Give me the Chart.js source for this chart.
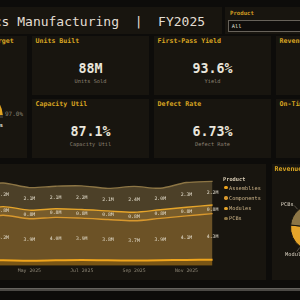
<!DOCTYPE html>
<html>
<head>
<meta charset="utf-8">
<script src="https://cdn.jsdelivr.net/npm/chart.js@4.4.1/dist/chart.umd.min.js"></script>
<style>
    html, body { margin: 0; padding: 0; width: 300px; height: 300px; overflow: hidden; background: #0d0c0a; }
    body { position: relative; font-family: 'DejaVu Sans Mono', monospace; }
    .panel { position: absolute; background: #18150f; }
    .kt { position: absolute; left: 3.5px; top: 2px; font: bold 6.6px/7px 'DejaVu Sans Mono'; color: #d9a521; white-space: nowrap; }
    .kv { position: absolute; left: 0; right: 0; top: 25.5px; text-align: center; font: bold 13.3px/14px 'DejaVu Sans Mono'; color: #e9e5db; }
    .ks { position: absolute; left: 0; right: 0; top: 42px; text-align: center; font: 5.3px/6px 'DejaVu Sans Mono'; color: #8c8273; }
    .abs { position: absolute; white-space: pre; }
    #area-legend { position: absolute; left: 223px; top: 175.5px; font-family: 'DejaVu Sans Mono'; }
    #area-legend .lg-title { font: bold 5.3px/7px 'DejaVu Sans Mono'; color: #d8ccb4; }
    #area-legend .lg-item { position: relative; padding-left: 6px; font: 5.3px/10.3px 'DejaVu Sans Mono'; color: #c9b187; white-space: nowrap; }
    #area-legend .dot { position: absolute; left: 1.3px; top: 3.45px; width: 3.4px; height: 3.4px; border-radius: 50%; }
    canvas { position: absolute; }
</style>
</head>
<body>
    <!-- header -->
    <div class="panel" style="left:-100px; top:7px; width:322px; height:27px;"></div>
    <div class="panel" style="left:225px; top:7px; width:120px; height:27px;"></div>
    <div class="abs" style="left:-76.7px; top:13.5px; font:13px/15px 'DejaVu Sans Mono'; color:#e3ded3;">Electronics Manufacturing  |  FY2025</div>
    <div class="abs" style="left:230px; top:9.8px; font:bold 5.7px/7px 'DejaVu Sans Mono'; color:#d39f22;">Product</div>
    <div class="abs" style="left:228.3px; top:20px; width:90px; height:10px; border:1px solid #67625a; background:#0f0d0b; font:5.3px/10px 'DejaVu Sans Mono'; color:#e6e2da; padding-left:2.5px;">All</div>

    <!-- KPI cards -->
    <div class="panel" style="left:-85px; top:36px; width:112px; height:122px;">
        <div class="kt">Monthly Output vs Target</div>
        <canvas id="chart-gauge" width="64" height="32" style="left:24px; top:50px; width:64px; height:32px;"></canvas>
        <div class="abs" style="left:90px; top:73.5px; font:6px/7px 'DejaVu Sans Mono'; color:#8a8272;">97.0%</div>
        <div class="abs" style="right:24px; top:85.5px; font:bold 5.3px/6px 'DejaVu Sans Mono'; color:#ece8df; text-align:right;">88M of 90.7M units</div>
    </div>
    <div class="panel" style="left:32px; top:36px; width:117px; height:59px;">
        <div class="kt">Units Built</div><div class="kv">88M</div><div class="ks">Units Sold</div>
    </div>
    <div class="panel" style="left:154px; top:36px; width:117px; height:59px;">
        <div class="kt">First-Pass Yield</div><div class="kv">93.6%</div><div class="ks">Yield</div>
    </div>
    <div class="panel" style="left:276px; top:36px; width:117px; height:59px;">
        <div class="kt">Revenue</div><div class="kv">$412M</div><div class="ks">Revenue</div>
    </div>
    <div class="panel" style="left:32px; top:99px; width:117px; height:59px;">
        <div class="kt">Capacity Util</div><div class="kv">87.1%</div><div class="ks">Capacity Util</div>
    </div>
    <div class="panel" style="left:154px; top:99px; width:117px; height:59px;">
        <div class="kt">Defect Rate</div><div class="kv">6.73%</div><div class="ks">Defect Rate</div>
    </div>
    <div class="panel" style="left:276px; top:99px; width:117px; height:59px;">
        <div class="kt">On-Time Delivery</div><div class="kv">95.2%</div><div class="ks">On-Time</div>
    </div>

    <!-- area chart panel -->
    <div class="panel" style="left:-170px; top:164px; width:436px; height:116px;">
        <div class="kt" style="top:2.5px;">Monthly Units by Product</div>
    </div>
    <canvas id="chart-units" width="322" height="111" style="left:-91px; top:166px; width:322px; height:111px;"></canvas>
    <div id="area-legend"></div>

    <!-- pie panel -->
    <div class="panel" style="left:272px; top:164px; width:130px; height:116px;">
        <div class="kt" style="left:2.5px; top:2px;">Revenue by Product</div>
    </div>
    <canvas id="chart-revenue" width="80" height="95" style="left:274px; top:180px; width:80px; height:95px;"></canvas>

    <!-- page scrollbar -->
    <div style="position:absolute; left:0; top:288px; width:300px; height:3px; background:#4b4945; border-top:0.5px solid #66645f; box-sizing:border-box;"></div>

<script>
    const MONO = "'DejaVu Sans Mono'";

    const months = ['Jan 2025', 'Feb 2025', 'Mar 2025', 'Apr 2025', 'May 2025', 'Jun 2025',
        'Jul 2025', 'Aug 2025', 'Sep 2025', 'Oct 2025', 'Nov 2025', 'Dec 2025'];
    // units built, millions
    const assemblies = [0.52, 0.49, 0.51, 0.50, 0.47, 0.50, 0.53, 0.50, 0.48, 0.51, 0.54, 0.55];
    const components = [4.0, 4.1, 3.9, 4.2, 3.9, 4.0, 3.9, 3.8, 3.7, 3.9, 4.1, 4.3];
    const modules = [0.8, 0.9, 0.8, 0.8, 0.8, 0.8, 0.8, 0.8, 0.8, 0.8, 0.8, 0.8];
    const pcbs = [2.0, 2.1, 2.3, 2.2, 2.1, 2.1, 2.2, 2.1, 2.4, 2.0, 2.3, 2.2];

    const products = ['Assemblies', 'Components', 'Modules', 'PCBs'];
    // revenue, $M
    const revenue = [30.5, 24.0, 42.5, 29.5];

    const gaugeValues = [97.0, 3.0];

    const productColors = ['#f0a51c', '#d8982e', '#e6a52a', '#8c7545'];
    const productFills = ['rgba(240,165,28,0.45)', 'rgba(220,165,70,0.43)', 'rgba(235,180,80,0.45)', 'rgba(140,118,70,0.45)'];

    // value labels in the middle of each stacked band
    const bandLabels = {
        id: 'bandLabels',
        afterDatasetsDraw(chart) {
            const { ctx } = chart;
            const zero = chart.scales.y.getPixelForValue(0);
            ctx.save();
            ctx.font = `4.8px ${MONO}`;
            ctx.fillStyle = '#e4ddcc';
            ctx.textAlign = 'center';
            ctx.textBaseline = 'middle';
            chart.data.datasets.forEach((ds, i) => {
                const pts = chart.getDatasetMeta(i).data;
                const below = i > 0 ? chart.getDatasetMeta(i - 1).data : null;
                pts.forEach((pt, j) => {
                    const base = below ? below[j].y : zero;
                    if (base - pt.y < 7) return; // too thin for a label
                    ctx.fillText(ds.data[j].toFixed(1) + 'M', pt.x, (pt.y + base) / 2);
                });
            });
            ctx.restore();
        }
    };

    const htmlLegend = {
        id: 'htmlLegend',
        afterUpdate(chart) {
            const box = document.querySelector('#area-legend');
            box.innerHTML = '<div class="lg-title">Product</div>';
            chart.data.datasets.forEach(ds => {
                box.insertAdjacentHTML('beforeend',
                    `<div class="lg-item"><span class="dot" style="background:${ds.borderColor}"></span>${ds.label}</div>`);
            });
        }
    };

    const pieLabels = {
        id: 'pieLabels',
        afterDatasetsDraw(chart) {
            const { ctx } = chart;
            ctx.save();
            ctx.font = `5.3px ${MONO}`;
            ctx.fillStyle = '#d9d1c1';
            ctx.strokeStyle = '#8a8070';
            ctx.lineWidth = 0.6;
            ctx.textBaseline = 'middle';
            chart.getDatasetMeta(0).data.forEach((arc, i) => {
                const mid = (arc.startAngle + arc.endAngle) / 2;
                const dx = Math.cos(mid), dy = Math.sin(mid);
                const r = arc.outerRadius;
                ctx.beginPath();
                ctx.moveTo(arc.x + dx * (r + 1), arc.y + dy * (r + 1));
                ctx.lineTo(arc.x + dx * (r + 6), arc.y + dy * (r + 6));
                ctx.stroke();
                ctx.textAlign = dx < -0.65 ? 'right' : dx > 0.65 ? 'left' : 'center';
                const shift = ctx.textAlign === 'center' ? dy * 3 : 0;
                ctx.fillText(chart.data.labels[i], arc.x + dx * (r + 7), arc.y + dy * (r + 7) + shift);
            });
            ctx.restore();
        }
    };

    const series = [assemblies, components, modules, pcbs];

    new Chart(document.querySelector('#chart-units'), {
        type: 'line',
        data: {
            labels: months,
            datasets: products.map((name, i) => ({
                label: name,
                data: series[i],
                borderColor: productColors[i],
                backgroundColor: productFills[i],
                borderWidth: i === 0 ? 2 : 1.4,
                fill: i === 0 ? 'origin' : '-1',
                tension: 0.3,
                pointRadius: 0,
            }))
        },
        options: {
            responsive: false,
            animation: false,
            layout: { padding: { left: 15.7, right: 18.4, top: 3, bottom: 0.5 } },
            scales: {
                x: {
                    grid: { display: false, drawTicks: false },
                    border: { display: false },
                    ticks: {
                        autoSkip: false,
                        maxRotation: 0,
                        padding: 2.5,
                        color: '#8e8777',
                        font: { family: 'DejaVu Sans Mono', size: 4.8 },
                        callback: (val, idx) => idx % 2 === 0 ? months[idx] : '',
                    }
                },
                y: {
                    display: false,
                    stacked: true,
                    beginAtZero: true,
                    max: 9,
                }
            },
            plugins: {
                legend: { display: false },
                tooltip: { enabled: false }
            }
        },
        plugins: [bandLabels, htmlLegend]
    });

    new Chart(document.querySelector('#chart-revenue'), {
        type: 'pie',
        data: {
            labels: products,
            datasets: [{
                data: revenue,
                backgroundColor: productColors,
                borderColor: '#18150f',
                borderWidth: 1,
            }]
        },
        options: {
            responsive: false,
            animation: false,
            layout: { padding: { left: 16, right: 16, top: 23.5, bottom: 23.5 } },
            plugins: { legend: { display: false }, tooltip: { enabled: false } }
        },
        plugins: [pieLabels]
    });

    new Chart(document.querySelector('#chart-gauge'), {
        type: 'doughnut',
        data: {
            labels: ['Actual', 'Remaining'],
            datasets: [{
                data: gaugeValues,
                backgroundColor: ['#e3a521', '#3a342a'],
                borderWidth: 0,
            }]
        },
        options: {
            responsive: false,
            animation: false,
            rotation: -90,
            circumference: 180,
            cutout: '68%',
            plugins: { legend: { display: false }, tooltip: { enabled: false } }
        }
    });
</script>
</body>
</html>
